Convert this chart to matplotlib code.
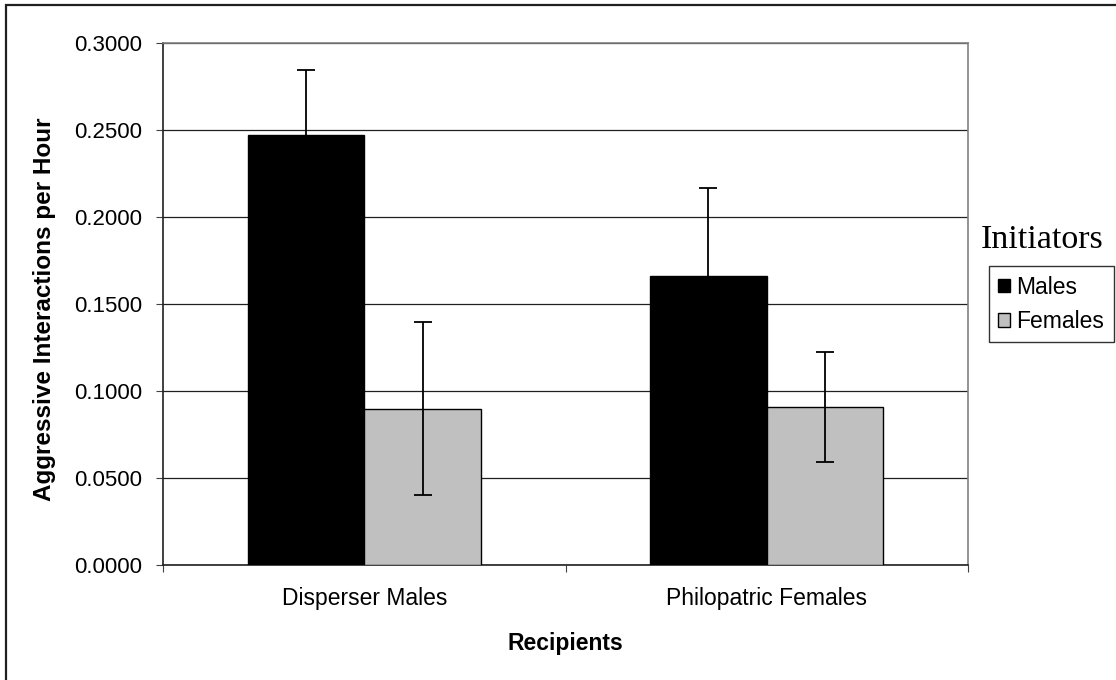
import matplotlib
matplotlib.use("Agg")
import matplotlib.pyplot as plt
from matplotlib.patches import Rectangle, Patch
import numpy as np

categories = ["Disperser Males", "Philopatric Females"]
series_names = ["Males", "Females"]
males = [0.2472, 0.1660]
females = [0.0898, 0.0908]
males_err = [0.0370, 0.0506]
females_err = [0.0496, 0.0316]
yticks = [0.0, 0.05, 0.10, 0.15, 0.20, 0.25, 0.30]

plt.rcParams['font.family'] = ['Liberation Sans', 'DejaVu Sans']

W, H = 1116, 680
fig = plt.figure(figsize=(W / 100, H / 100), dpi=100)
ax = fig.add_axes([163 / W, 1 - 565 / H, (968 - 163) / W, (565 - 43) / H])

x = np.arange(len(categories))
bw = 0.29
ax.bar(x - bw / 2, males, bw, color='black', edgecolor='black', linewidth=1, zorder=3)
ax.bar(x + bw / 2, females, bw, color='#c0c0c0', edgecolor='black', linewidth=1, zorder=3)
ax.errorbar(x - bw / 2, males, yerr=males_err, fmt='none', ecolor='black',
            elinewidth=1.3, capsize=6.5, capthick=1.3, zorder=4)
ax.errorbar(x + bw / 2, females, yerr=females_err, fmt='none', ecolor='black',
            elinewidth=1.3, capsize=6.5, capthick=1.3, zorder=4)

ax.set_xlim(-0.5, 1.5)
ax.set_ylim(0, 0.3)
ax.set_yticks(yticks)
ax.set_yticklabels([f"{v:.4f}" for v in yticks], fontsize=16)
ax.yaxis.grid(True, color='#202020', linewidth=0.9, zorder=0)
ax.set_axisbelow(True)

ax.set_xticks([-0.5, 0.5, 1.5])
ax.set_xticklabels([])
ax.set_xticks(x, minor=True)
ax.set_xticklabels(categories, minor=True, fontsize=16.5)
ax.tick_params(axis='x', which='minor', length=0, pad=16)
ax.tick_params(axis='x', which='major', direction='out', length=5, color='#404040')
ax.tick_params(axis='y', direction='out', length=5, color='#404040', pad=10)

for s in ['top', 'right']:
    ax.spines[s].set_color('#808080')
    ax.spines[s].set_linewidth(1.2)
for s in ['left', 'bottom']:
    ax.spines[s].set_color('#202020')
    ax.spines[s].set_linewidth(1.2)

ax.set_ylabel("Aggressive Interactions per Hour", fontsize=17.5, fontweight='bold')
ax.yaxis.set_label_coords((56 - 163) / (968 - 163), 0.49)
ax.set_xlabel("Recipients", fontsize=16.5, fontweight='bold', labelpad=16)

# Legend
fig.text(981 / W, 1 - 240 / H, "Initiators", family=['Liberation Serif', 'DejaVu Serif'],
         fontsize=24.5, ha='left', va='center')
handles = [Patch(facecolor='black', edgecolor='black', label=series_names[0]),
           Patch(facecolor='#c0c0c0', edgecolor='black', label=series_names[1])]
leg = fig.legend(handles=handles, loc='upper left',
                 bbox_to_anchor=(989 / W, 1 - 266.5 / H),
                 frameon=True, fancybox=False, fontsize=16.5,
                 handlelength=0.5, handleheight=0.5, handletextpad=0.3,
                 borderpad=0.4, labelspacing=0.5, borderaxespad=0)
leg.get_frame().set_edgecolor('black')
leg.get_frame().set_linewidth(1.0)

# Outer chart frame
fig.patches.append(Rectangle((6 / W, -0.1), 1.2, 1.1 - 5 / H, transform=fig.transFigure,
                             fill=False, edgecolor='#202020', linewidth=1.6, figure=fig))

fig.savefig("out.png", dpi=100)
